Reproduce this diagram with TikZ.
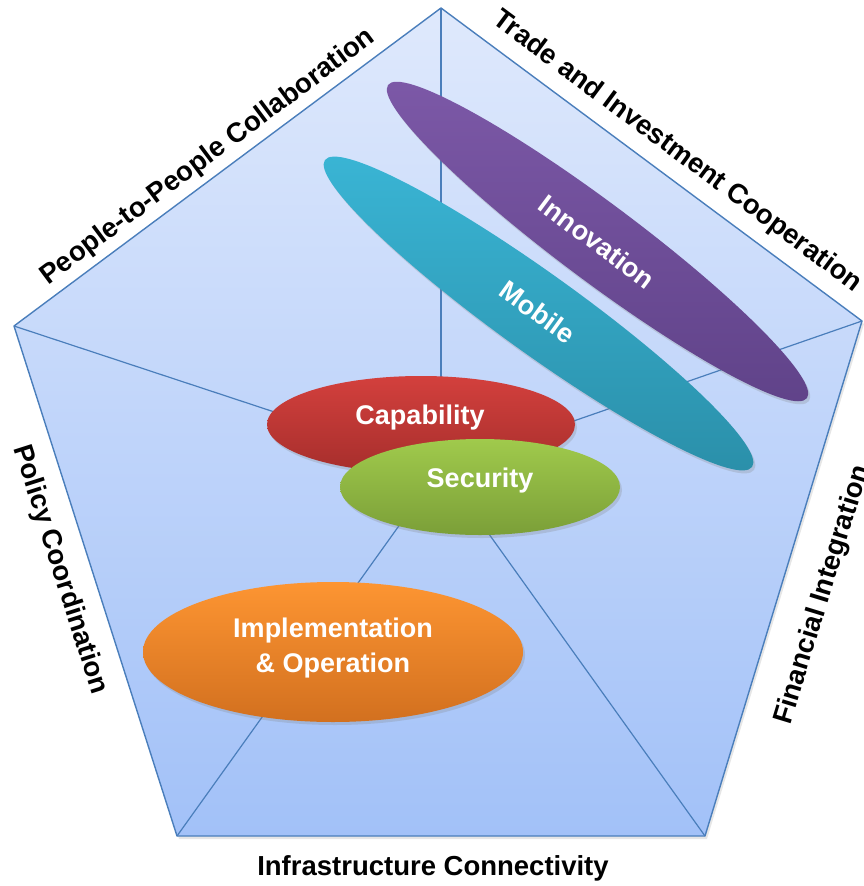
\documentclass[tikz,border=0pt]{standalone}
\usepackage{fontspec}
\setmainfont{Liberation Sans}
\usetikzlibrary{shapes.geometric,shadows}
\definecolor{edgeblue}{HTML}{4A7EBB}
\definecolor{pentop}{HTML}{DFE9FC}
\definecolor{penbot}{HTML}{A2C1F8}
\definecolor{purpT}{HTML}{7D59A8}
\definecolor{purpB}{HTML}{5F4288}
\definecolor{tealT}{HTML}{3AB6D6}
\definecolor{tealB}{HTML}{2A8EA8}
\definecolor{redT}{HTML}{D3403D}
\definecolor{redB}{HTML}{A62E2C}
\definecolor{grnT}{HTML}{A0CA4C}
\definecolor{grnB}{HTML}{7B9F38}
\definecolor{orgT}{HTML}{FD9532}
\definecolor{orgB}{HTML}{D2701F}
\tikzset{
  edge/.style={draw=edgeblue, line width=1.4pt, line join=round},
  spoke/.style={draw=edgeblue, line width=1.2pt},
  blob/.style={ellipse, inner sep=0pt,
    drop shadow={opacity=0.25, shadow xshift=2pt, shadow yshift=-3pt}},
  btxt/.style={text=white, font=\bfseries\fontsize{27}{33}\selectfont, inner sep=0pt},
  lbl/.style={font=\bfseries\fontsize{27.5}{32}\selectfont, text=black, inner sep=0pt}
}
\begin{document}
\begin{tikzpicture}[x=1pt,y=-1pt]
\useasboundingbox (0,0) rectangle (864,886);
\coordinate (T) at (441,8);
\coordinate (R) at (862,321);
\coordinate (BR) at (705,836);
\coordinate (BL) at (177,836);
\coordinate (L) at (14,326);
\coordinate (C) at (441,467);
% pentagon body
\shade[top color=pentop, bottom color=penbot, drop shadow={opacity=0.2, shadow xshift=2pt, shadow yshift=-3pt}]
  (T) -- (R) -- (BR) -- (BL) -- (L) -- cycle;
\draw[spoke] (C) -- (T);
\draw[spoke] (C) -- (R);
\draw[spoke] (C) -- (BR);
\draw[spoke] (C) -- (BL);
\draw[spoke] (C) -- (L);
\draw[edge] (T) -- (R) -- (BR) -- (BL) -- (L) -- cycle;
% ellipses
\node[blob, minimum width=523pt, minimum height=78pt, rotate=-36.8,
      top color=purpT, bottom color=purpB] (inno) at (597.5,241.5) {};
\node[blob, minimum width=526pt, minimum height=80pt, rotate=-35.7,
      top color=tealT, bottom color=tealB] (mob) at (538.5,313.5) {};
\node[blob, minimum width=308pt, minimum height=97pt, top color=redT, bottom color=redB]
  (cap) at (421,424.5) {};
\node[blob, minimum width=280pt, minimum height=96pt, top color=grnT, bottom color=grnB]
  (sec) at (480,487) {};
\node[blob, minimum width=380pt, minimum height=140pt, top color=orgT, bottom color=orgB]
  (imp) at (333,652) {};
% texts
\node[btxt, rotate=-36.8] (innot) at (597,242) {Innovation};
\node[btxt, rotate=-35.7] (mobt) at (538,312) {Mobile};
\node[btxt] (capt) at (420,418) {Capability};
\node[btxt] (sect) at (480,481) {Security};
\node[btxt, font=\bfseries\fontsize{27}{35}\selectfont, align=center] (impt) at (333,648) {Implementation\\\& Operation};
% labels
\node[lbl, rotate=36.7] (ppl) at (208,157) {People-to-People Collaboration};
\node[lbl, rotate=-36.6] (trade) at (677,152) {Trade and Investment Cooperation};
\node[lbl, rotate=-72.3] (pol) at (60,570) {Policy Coordination};
\node[lbl, rotate=73] (fin) at (823,595) {Financial Integration};
\node[lbl] (inf) at (433,868) {Infrastructure Connectivity};
\end{tikzpicture}
\end{document}
